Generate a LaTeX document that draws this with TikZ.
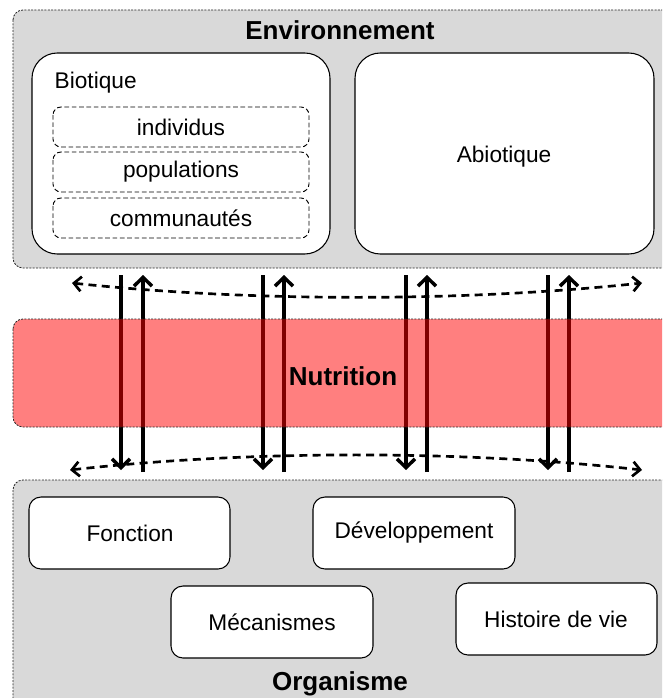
\documentclass[tikz,border=0pt]{standalone}
\usepackage{fontspec}
\setmainfont{Liberation Sans}
\usetikzlibrary{arrows.meta}
\tikzset{
  zone/.style={draw=black!85, line width=0.6, dash pattern={on 1.5pt off 1pt}, fill=black!15, rounded corners=7.5},
  bloc/.style={draw=black, line width=0.8, fill=white},
  niveau/.style={draw=black, line width=0.7, dash pattern={on 3.5pt off 2pt}, rounded corners=6},
  flux/.style={line width=2.6, -{Straight Barb[length=6.5pt,width=13.5pt]}},
  echange/.style={line width=2, dash pattern={on 6pt off 4pt}, {Straight Barb[length=5.5pt,width=11pt]}-{Straight Barb[length=5.5pt,width=11pt]}},
  texte/.style={font=\fontsize{17}{20}\selectfont},
  titre/.style={font=\fontsize{19.5}{23}\selectfont\bfseries}
}
\begin{document}
\begin{tikzpicture}[x=0.75pt,y=0.75pt,yscale=-1,xscale=1]
\clip (0,0) rectangle (662,698);

%Rounded Rect [id:environnement] 
\draw [zone] (13,10) rectangle (700,268) ;
%Rounded Rect [id:organisme] 
\draw [zone] (13,480) rectangle (700,720) ;

%Rounded Rect [id:biotique] 
\draw [bloc, rounded corners=19] (32,53) rectangle (330,254) ;
%Rounded Rect [id:abiotique] 
\draw [bloc, rounded corners=19] (355,53) rectangle (654,254) ;
%Rounded Rect [id:individus] 
\draw [niveau] (53,107) rectangle (309,147) ;
%Rounded Rect [id:populations] 
\draw [niveau] (53,152) rectangle (309,192) ;
%Rounded Rect [id:communautes] 
\draw [niveau] (53,198) rectangle (309,238) ;

%Rounded Rect [id:fonction] 
\draw [bloc, rounded corners=9] (29,497) rectangle (230,569) ;
%Rounded Rect [id:developpement] 
\draw [bloc, rounded corners=9] (313,497) rectangle (515,569) ;
%Rounded Rect [id:mecanismes] 
\draw [bloc, rounded corners=9] (171,586) rectangle (373,658) ;
%Rounded Rect [id:histoire] 
\draw [bloc, rounded corners=9] (456,583) rectangle (657,655) ;

%Curve Lines [id:echange haut] 
\coordinate (hg) at (72,283) ;
\coordinate (hd) at (642,283) ;
\draw [echange] (hg) .. controls (250,302) and (464,302) .. (hd) ;
%Curve Lines [id:echange bas] 
\coordinate (bg) at (70,470) ;
\coordinate (bd) at (642,470) ;
\draw [echange] (bg) .. controls (250,450) and (462,450) .. (bd) ;

%Straight Lines [id:descente] 
\coordinate (d1h) at (121,275) ; \coordinate (d1b) at (121,470) ;
\coordinate (d2h) at (263,275) ; \coordinate (d2b) at (263,470) ;
\coordinate (d3h) at (406,275) ; \coordinate (d3b) at (406,470) ;
\coordinate (d4h) at (548,275) ; \coordinate (d4b) at (548,470) ;
\draw [flux] (d1h) -- (d1b) ;
\draw [flux] (d2h) -- (d2b) ;
\draw [flux] (d3h) -- (d3b) ;
\draw [flux] (d4h) -- (d4b) ;
%Straight Lines [id:montee] 
\coordinate (m1b) at (143,472) ; \coordinate (m1h) at (143,275) ;
\coordinate (m2b) at (284,472) ; \coordinate (m2h) at (284,275) ;
\coordinate (m3b) at (427,472) ; \coordinate (m3h) at (427,275) ;
\coordinate (m4b) at (569,472) ; \coordinate (m4h) at (569,275) ;
\draw [flux] (m1b) -- (m1h) ;
\draw [flux] (m2b) -- (m2h) ;
\draw [flux] (m3b) -- (m3h) ;
\draw [flux] (m4b) -- (m4h) ;

%Rounded Rect [id:nutrition] 
\draw [zone, fill=red, fill opacity=0.5] (13,319) rectangle (700,427) ;

% Text Node
\draw (340,30) node [titre] (environnement) {Environnement};
% Text Node
\draw (50,83) node [texte, anchor=west] (biotique) {Biotique};
% Text Node
\draw (181,127) node [texte] (individus) {individus};
% Text Node
\draw (181,172) node [texte] (populations) {populations};
% Text Node
\draw (181,218) node [texte] (communautes) {communautés};
% Text Node
\draw (504,157) node [texte] (abiotique) {Abiotique};
% Text Node
\draw (343,376) node [titre] (nutrition) {Nutrition};
% Text Node
\draw (130,533) node [texte] (fonction) {Fonction};
% Text Node
\draw (414,533) node [texte] (developpement) {Développement};
% Text Node
\draw (272,622) node [texte] (mecanismes) {Mécanismes};
% Text Node
\draw (556,619) node [texte] (histoire) {Histoire de vie};
% Text Node
\draw (340,684) node [titre] (organisme) {Organisme};

\end{tikzpicture}
\end{document}
